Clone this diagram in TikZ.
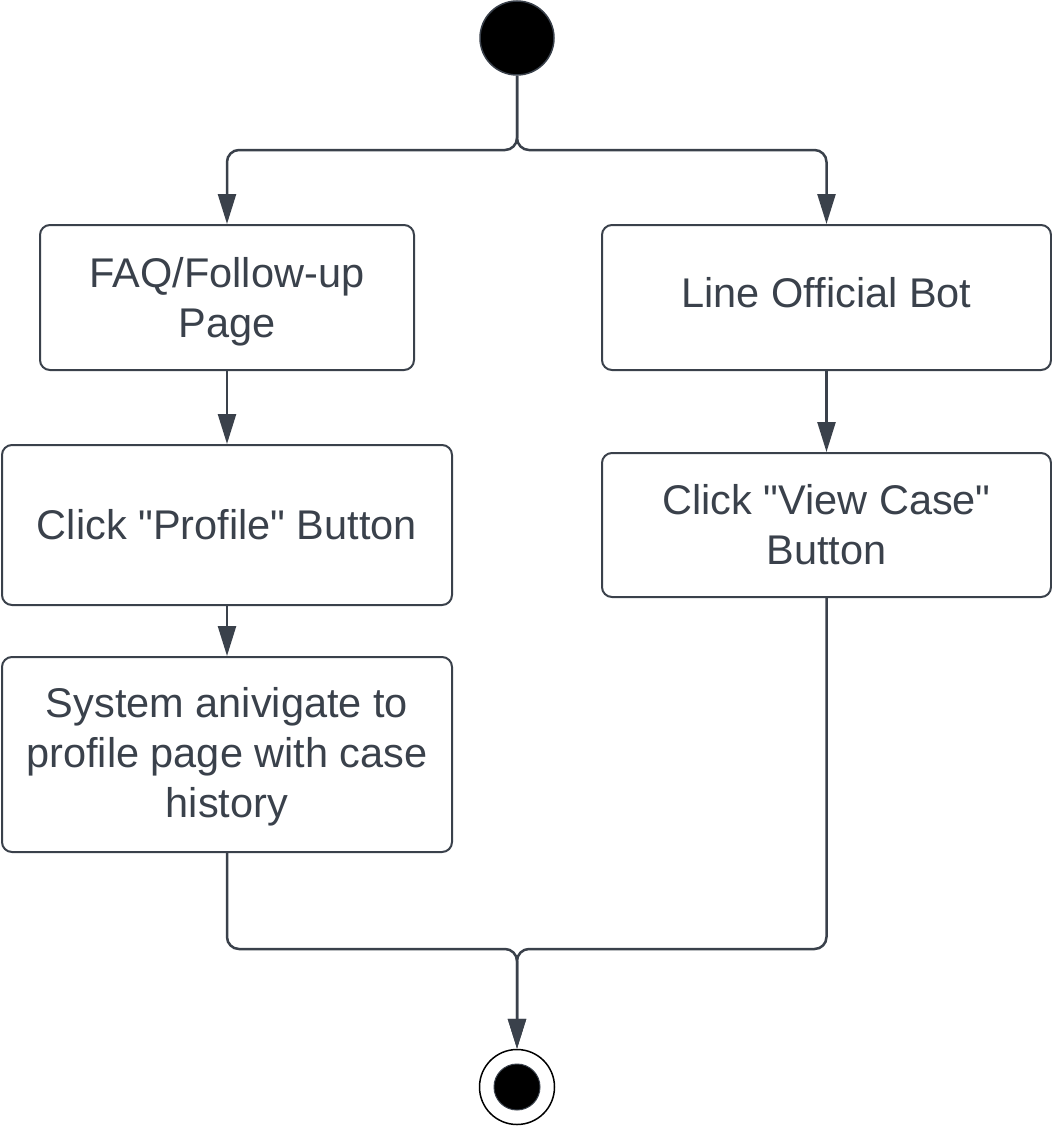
\documentclass[tikz,border=0pt]{standalone}
\usepackage{fontspec}
\setmainfont{Liberation Sans}[Ligatures=TeXOff]
\usetikzlibrary{arrows.meta}
\definecolor{ink}{HTML}{3A414B}
\newcommand{\shiftline}[2]{\raisebox{#1}[\height][\depth]{#2}}
\begin{document}
\begin{tikzpicture}[x=1pt,y=-1pt,
  act/.style={draw=ink, line width=2pt, rounded corners=10pt, text=ink, align=center,
    font=\fontsize{41.5}{50}\selectfont, inner sep=0pt},
  flow/.style={draw=ink, line width=2.5pt, rounded corners=12pt, -{Triangle[length=30pt,width=18pt]}}]
\useasboundingbox (0,0) rectangle (1052,1127);
\node[circle, fill=black, draw=ink, line width=1.5pt, minimum size=74pt, inner sep=0pt] (start) at (517,38) {};
\node[act, minimum width=374pt, minimum height=145pt] (faq) at (227,297.5) {\shiftline{-4pt}{FAQ/Follow-up}\\\shiftline{-4pt}{Page}};
\node[act, minimum width=449pt, minimum height=145pt] (line) at (826.5,297.5) {\shiftline{5pt}{Line Official Bot}};
\node[act, minimum width=450pt, minimum height=160pt] (prof) at (227,525) {Click "Profile" Button};
\node[act, minimum width=449pt, minimum height=144pt] (view) at (826.5,525) {Click "View Case"\\Button};
\node[act, minimum width=450pt, minimum height=195pt] (sys) at (227,754.5) {\shiftline{-2pt}{System anivigate to}\\\shiftline{-2pt}{profile page with case}\\\shiftline{-2pt}{history}};
\node[circle, draw=black, line width=1.5pt, fill=white, minimum size=75pt, inner sep=0pt] (endo) at (517,1087) {};
\node[circle, fill=black, draw=ink, line width=1pt, minimum size=46pt, inner sep=0pt] (endi) at (517,1087) {};
\coordinate (fork) at (517,150);
\coordinate (merge) at (517,949);
\draw[flow] (start.south) -- (fork) -| (faq.north);
\draw[flow] (start.south) -- (fork) -| (line.north);
\draw[flow] (faq.south) -- (prof.north);
\draw[flow] (line.south) -- (view.north);
\draw[flow] (prof.south) -- (sys.north);
\draw[flow] (sys.south) |- (merge) -- (endo.north);
\draw[flow] (view.south) |- (merge) -- (endo.north);
\end{tikzpicture}
\end{document}
